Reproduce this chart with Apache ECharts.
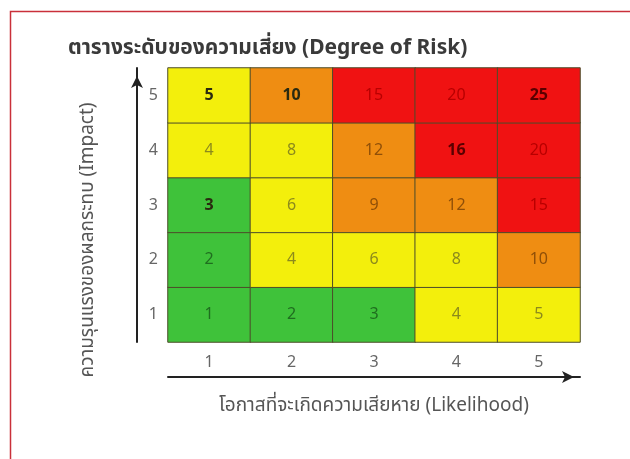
<!DOCTYPE html>
<html>
<head>
<meta charset="utf-8">
<script src="https://cdn.jsdelivr.net/npm/echarts@6/dist/echarts.min.js"></script>
<style>
html,body{margin:0;padding:0;background:#fff;}
#c{width:630px;height:459px;}
</style>
</head>
<body>
<div id="c"></div>
<script>
// Data
const likelihood = ['1', '2', '3', '4', '5'];
const impact = ['1', '2', '3', '4', '5'];
const impact1 = [1, 2, 3, 4, 5];
const impact2 = [2, 4, 6, 8, 10];
const impact3 = [3, 6, 9, 12, 15];
const impact4 = [4, 8, 12, 16, 20];
const impact5 = [5, 10, 15, 20, 25];
const rows = [impact1, impact2, impact3, impact4, impact5];
const boldValuesAt = [[0, 4], [1, 4], [4, 4], [3, 3], [0, 2]]; // [x, y] cells with bold labels

const titleText = 'ตารางระดับของความเสี่ยง (Degree of Risk)';
const xName = 'โอกาสที่จะเกิดความเสียหาย (Likelihood)';
const yName = 'ความรุนแรงของผลกระทบ (Impact)';

const FONT = '"Noto Sans", "Noto Sans Thai", "DejaVu Sans", sans-serif';

function levelLabelColor(v) {
  if (v <= 3) return '#1f6e1f';
  if (v <= 8) return '#8c8a1c';
  if (v <= 12) return '#8f4f08';
  return '#b80000';
}

const data = [];
rows.forEach((row, y) => {
  row.forEach((v, x) => {
    const bold = boldValuesAt.some(p => p[0] === x && p[1] === y);
    data.push({
      value: [x, y, v],
      label: {
        color: bold ? (v >= 15 ? '#5a0000' : '#2a2a10') : levelLabelColor(v),
        fontWeight: bold ? 'bold' : 'normal'
      }
    });
  });
});

const chart = echarts.init(document.getElementById('c'));
chart.setOption({
  animation: false,
  backgroundColor: '#fff',
  graphic: [
    { type: 'rect', left: 8, top: 9, shape: { width: 700, height: 500 }, style: { fill: 'none', stroke: '#c9303a', lineWidth: 1.5 }, z: 100, silent: true },
    { type: 'text', x: 68, y: 48, style: { x: 0, y: 0, text: titleText, font: 'bold 21px ' + FONT, fill: '#3a3a3a', align: 'left', verticalAlign: 'middle' } },
    { type: 'text', x: 88, y: 240, rotation: Math.PI / 2, style: { x: 0, y: 0, text: yName, font: '19px ' + FONT, fill: '#555', align: 'center', verticalAlign: 'middle' } }
  ],
  grid: { left: 168, right: 50, top: 68, bottom: 117 },
  xAxis: [
    {
      type: 'category', data: likelihood, position: 'bottom',
      axisLine: { show: false }, axisTick: { show: false }, splitLine: { show: false },
      axisLabel: { color: '#666', fontSize: 16, margin: 12, fontFamily: FONT },
      name: xName, nameLocation: 'middle', nameGap: 54,
      nameTextStyle: { color: '#555', fontSize: 19, fontFamily: FONT }
    },
    {
      type: 'category', data: likelihood, position: 'bottom', offset: 35,
      axisLine: { show: true, symbol: ['none', 'arrow'], symbolSize: [9, 12], symbolOffset: [0, -6], lineStyle: { color: '#222', width: 2 } },
      axisTick: { show: false }, axisLabel: { show: false }, splitLine: { show: false }
    }
  ],
  yAxis: [
    {
      type: 'category', data: impact,
      axisLine: { show: false }, axisTick: { show: false }, splitLine: { show: false },
      axisLabel: { color: '#666', fontSize: 16, margin: 10, fontFamily: FONT }
    },
    {
      type: 'category', data: impact, position: 'left', offset: 31,
      axisLine: { show: true, symbol: ['none', 'arrow'], symbolSize: [9, 12], symbolOffset: [0, -8], lineStyle: { color: '#222', width: 2 } },
      axisTick: { show: false }, axisLabel: { show: false }, splitLine: { show: false }
    }
  ],
  visualMap: {
    show: false, type: 'piecewise', dimension: 2,
    pieces: [
      { min: 1, max: 3, color: '#3fc23a' },
      { min: 4, max: 8, color: '#f3ef0c' },
      { min: 9, max: 12, color: '#ef8d12' },
      { min: 13, max: 25, color: '#f01212' }
    ]
  },
  series: [{
    type: 'heatmap', data: data,
    label: { show: true, fontSize: 16, fontFamily: FONT },
    itemStyle: { borderColor: '#4d4d2a', borderWidth: 1 }
  }]
});
</script>
</body>
</html>
